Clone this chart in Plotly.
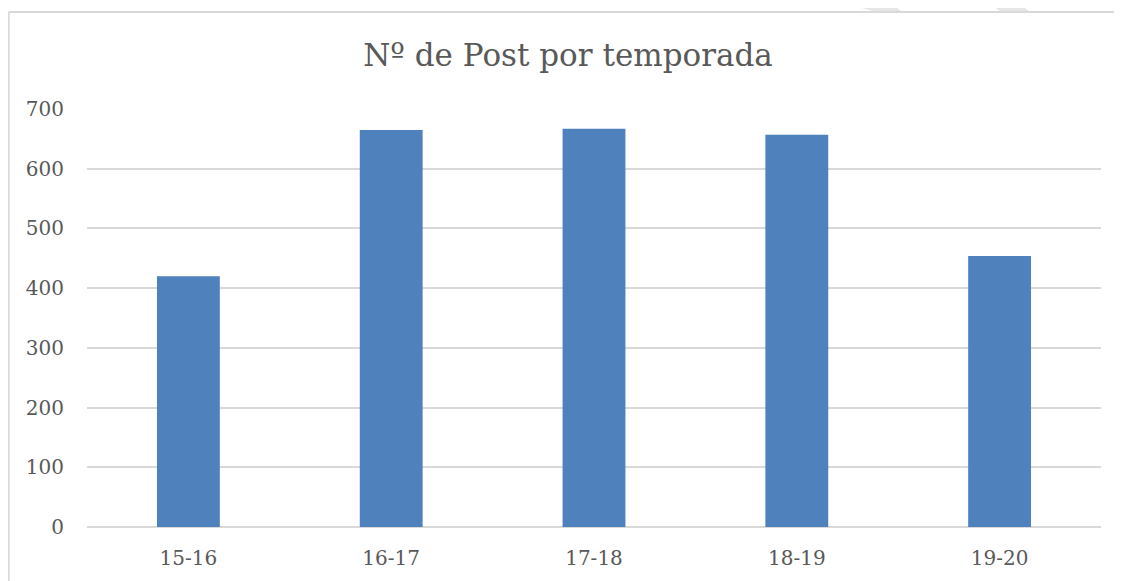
import plotly.graph_objects as go

seasons = ["15-16", "16-17", "17-18", "18-19", "19-20"]
posts = [420, 665, 667, 657, 454]
y_ticks = [0, 100, 200, 300, 400, 500, 600, 700]

# page has an 8px body margin; size figure to fill the rest of the window
OFF = 8
W, H = 1122 - OFF, 581 - OFF
L, R, T, B = 87 - OFF, 21, 109 - OFF, 54
PW, PH = W - L - R, H - T - B


def px(x_page):
    return (x_page - OFF - L) / PW


def py(y_page):
    return (H - B - (y_page - OFF)) / PH


FONT = "DejaVu Serif"
TXT = "#595959"
GRID = "#d9d9d9"

fig = go.Figure(
    go.Bar(
        x=seasons,
        y=posts,
        marker=dict(color="#4f81bd", line=dict(width=0)),
        hoverinfo="x+y",
    )
)

shapes = [
    # chart border (left and top edges visible)
    dict(type="line", xref="paper", yref="paper", x0=px(8.8), x1=px(1122), y0=py(12), y1=py(12),
         line=dict(color=GRID, width=1.8), layer="below"),
    dict(type="line", xref="paper", yref="paper", x0=px(8.8), x1=px(8.8), y0=py(12), y1=py(581),
         line=dict(color=GRID, width=1.8), layer="below"),
    # watermark fragments above the chart
    dict(type="path", xref="paper", yref="paper",
         path=f"M {px(832)} {py(0)} L {px(886)} {py(0)} L {px(901)} {py(11)} L {px(873)} {py(11)} Z",
         fillcolor="#e6e6e6", line=dict(width=0), layer="below"),
    dict(type="path", xref="paper", yref="paper",
         path=f"M {px(984)} {py(0)} L {px(1013)} {py(0)} L {px(1029)} {py(11)} L {px(1000)} {py(11)} Z",
         fillcolor="#e6e6e6", line=dict(width=0), layer="below"),
]

fig.update_layout(
    width=W,
    height=H,
    margin=dict(l=L, r=R, t=T, b=B, pad=0),
    paper_bgcolor="white",
    plot_bgcolor="white",
    showlegend=False,
    bargap=0.69,
    font=dict(family=FONT, color=TXT, size=20),
    title=dict(
        text="Nº de Post por temporada",
        x=((363 + 773) / 2 - OFF) / W,
        xanchor="center",
        xref="container",
        y=1 - (55 - OFF) / H,
        yanchor="middle",
        yref="container",
        font=dict(family=FONT, size=31, color=TXT),
    ),
    xaxis=dict(
        showgrid=False,
        showline=False,
        zeroline=False,
        ticks="",
        tickfont=dict(family=FONT, size=20, color=TXT),
        ticklabelstandoff=17,
    ),
    yaxis=dict(
        range=[0, 700],
        tickvals=y_ticks,
        showgrid=True,
        gridcolor=GRID,
        gridwidth=1.5,
        zeroline=True,
        zerolinecolor=GRID,
        zerolinewidth=1.5,
        showline=False,
        ticks="",
        tickfont=dict(family=FONT, size=20, color=TXT),
        ticklabelstandoff=22,
    ),
    shapes=shapes,
)

fig.write_html("out.html", config={"displayModeBar": False})
